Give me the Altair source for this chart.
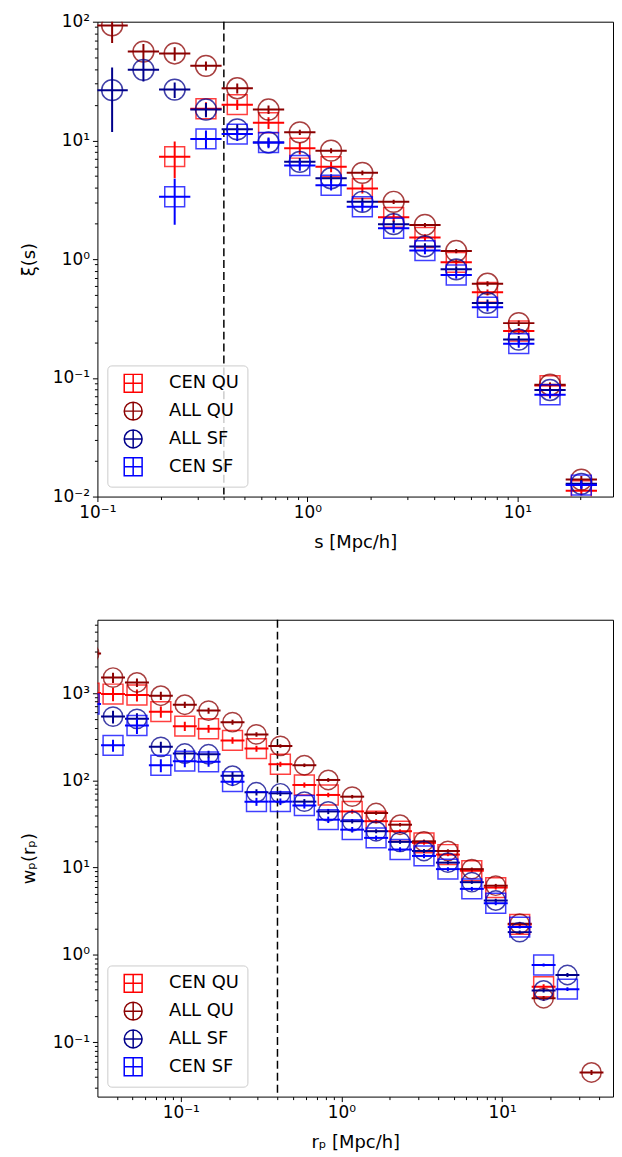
import altair as alt
import pandas as pd

SERIES = ["CEN QU", "ALL QU", "ALL SF", "CEN SF"]
COLORS = ["#ff0000", "#8b0000", "#00008b", "#0000ff"]
MARKERS = ["square", "circle", "circle", "square"]

# ---------------- top panel: xi(s) ----------------
s_bins = [0.1175, 0.1656, 0.2333, 0.3287, 0.4632, 0.6527, 0.9197, 1.296,
          1.826, 2.573, 3.626, 5.109, 7.199, 10.14, 14.29, 20.14]
xi_cen_qu = [None, None, 7.3, 18.5, 20.0, 14.1, 8.6, 6.0, 3.93, 2.25, 1.52, 0.94, 0.525, 0.248, 0.086, 0.0112]
xi_all_qu = [93.0, 56.0, 54.0, 42.5, 27.5, 18.2, 11.7, 8.2, 5.33, 3.04, 1.94, 1.17, 0.62, 0.289, 0.0875, 0.0139]
xi_all_sf = [26.5, 39.3, 26.8, 18.2, 12.4, 9.6, 6.6, 4.8, 3.04, 1.97, 1.28, 0.82, 0.428, 0.21, 0.079, 0.0128]
xi_cen_sf = [None, None, 3.35, 10.3, 11.3, 9.6, 6.15, 4.19, 2.76, 1.82, 1.18, 0.735, 0.393, 0.194, 0.072, 0.0125]
xi_err_cen_qu = [None, None, 2.5, 2.5, 2.0, 1.6, 1.0, 0.6, 0.35, 0.2, 0.1, 0.06, 0.03, 0.015, 0.005, 0.001]
xi_err_all_qu = [27.0, 9.0, 7.0, 3.7, 2.7, 1.5, 0.6, 0.4, 0.25, 0.12, 0.08, 0.05, 0.03, 0.015, 0.004, 0.001]
xi_err_all_sf = [14.7, 8.0, 4.0, 2.5, 1.3, 0.8, 0.5, 0.4, 0.25, 0.15, 0.08, 0.05, 0.03, 0.015, 0.004, 0.001]
xi_err_cen_sf = [None, None, 1.4, 1.8, 1.4, 1.0, 0.6, 0.4, 0.25, 0.15, 0.08, 0.05, 0.03, 0.015, 0.005, 0.001]

# ---------------- bottom panel: w_p(r_p) ----------------
rp_bins = [0.0269, 0.0379, 0.0534, 0.0752, 0.106, 0.149, 0.210, 0.296, 0.417, 0.588, 0.828,
           1.167, 1.644, 2.317, 3.265, 4.60, 6.48, 9.13, 12.87, 18.13, 25.5, 36.0]
wp_cen_qu = [1000, 975, 950, 613, 418, 390, 287, 231, 153, 88.5, 68, 44, 34, 26.1, 19.2, 14.1, 9.2, 5.9, 2.23, 0.43, None, None]
wp_all_qu = [2850, 1507, 1323, 933, 736, 630, 464, 336, 248, 149, 101, 65, 42.2, 31, 20, 15.5, 9.6, 6.2, 2.27, 0.318, None, 0.0448]
wp_all_sf = [None, 538, 507, 242, 203, 199, 113, 73, 71, 57, 44, 34, 26.1, 19.7, 15.5, 11.4, 6.8, 4.19, 1.82, 0.39, 0.587, None]
wp_cen_sf = [750, 252, 425, 149, 166, 163, 96.6, 57, 57, 51.5, 35.4, 27.2, 21.9, 16.1, 13.6, 9.6, 5.7, 3.9, 2.08, 0.764, 0.404, None]
wp_err_cen_qu = [150, 170, 150, 90, 50, 40, 25, 18, 10, 6, 4, 2.5, 1.8, 1.3, 0.9, 0.6, 0.4, 0.3, 0.1, 0.03, None, None]
wp_err_all_qu = [300, 200, 150, 100, 60, 50, 30, 20, 12, 7, 5, 3, 2, 1.4, 0.9, 0.7, 0.4, 0.3, 0.1, 0.02, None, 0.003]
wp_err_all_sf = [None, 90, 80, 35, 25, 20, 12, 6, 5, 4, 3, 2, 1.4, 1.0, 0.8, 0.5, 0.3, 0.2, 0.08, 0.02, 0.03, None]
wp_err_cen_sf = [100, 40, 85, 25, 25, 20, 10, 6, 5, 4, 3, 2, 1.4, 1.0, 0.8, 0.5, 0.3, 0.2, 0.08, 0.03, 0.02, None]

vline_x = [0.4]
HALF_BIN_DEX = 0.0745  # half width of a log bin


def build(bins, values, errors):
    rows = []
    for name, vals, errs in zip(SERIES, values, errors):
        for x, y, e in zip(bins, vals, errs):
            if y is None:
                continue
            e = e or 0.0
            rows.append(dict(series=name, x=x, y=y,
                             xlo=x / 10 ** HALF_BIN_DEX, xhi=x * 10 ** HALF_BIN_DEX,
                             ylo=max(y - e, y * 0.02), yhi=y + e))
    return pd.DataFrame(rows)


df_top = build(s_bins, [xi_cen_qu, xi_all_qu, xi_all_sf, xi_cen_sf],
               [xi_err_cen_qu, xi_err_all_qu, xi_err_all_sf, xi_err_cen_sf])
df_bot = build(rp_bins, [wp_cen_qu, wp_all_qu, wp_all_sf, wp_cen_sf],
               [wp_err_cen_qu, wp_err_all_qu, wp_err_all_sf, wp_err_cen_sf])

SUP = {"-": "\u207b", "0": "\u2070", "1": "\u00b9", "2": "\u00b2", "3": "\u00b3"}


def minors(lo, hi):
    out = []
    for e in range(-3, 4):
        for k in range(2, 10):
            v = round(k * 10 ** e, 10)
            if lo <= v <= hi:
                out.append(v)
    return out


def make_axis(exps, dom, title, tpad):
    majors = [round(10.0 ** e, 10) for e in exps]
    majors = [1000 if m == 1000.0 else m for m in majors]
    expr = ""
    for e, m in zip(exps, majors):
        lab = "10" + "".join(SUP[c] for c in str(e))
        expr += f"datum.value == {m} ? '{lab}' : "
    expr += "''"
    test = "indexof([" + ",".join(str(m) for m in majors) + "], datum.value) >= 0"
    return alt.Axis(values=sorted(majors + minors(dom[0], dom[1])), labelExpr=expr,
                    tickSize={"condition": {"test": test, "value": 5}, "value": 3},
                    title=title, labelFlush=False, labelOverlap=False, titlePadding=tpad,
                    grid=False, domain=False, labelPadding=3)


PLUS_SQUARE = "M-1,-1H1V1H-1Z M-1,0H1 M0,-1V1"
PLUS_CIRCLE = ("M-1,0C-1,-0.552,-0.552,-1,0,-1C0.552,-1,1,-0.552,1,0"
               "C1,0.552,0.552,1,0,1C-0.552,1,-1,0.552,-1,0Z M-1,0H1 M0,-1V1")
LEG_SHAPES = [PLUS_SQUARE, PLUS_CIRCLE, PLUS_CIRCLE, PLUS_SQUARE]


def panel(df, xdom, ydom, xexps, yexps, xtitle, ytitle, w, h, csize, ssize):
    xs = alt.Scale(type="log", domain=xdom, nice=False)
    ys = alt.Scale(type="log", domain=ydom, nice=False)
    xa = make_axis(xexps, xdom, xtitle, 13)
    ya = make_axis(yexps, ydom, ytitle, 14)
    base = alt.Chart(df)
    layers = [
        alt.Chart(pd.DataFrame({"x": vline_x})).mark_rule(
            color="black", strokeDash=[8, 4], strokeWidth=1.5).encode(
            x=alt.X("x:Q", scale=xs, axis=xa))
    ]
    for name, col, mk in zip(SERIES, COLORS, MARKERS):
        sub = base.transform_filter(alt.datum.series == name)
        layers.append(sub.mark_rule(color=col, strokeWidth=2, clip=True).encode(
            x=alt.X("xlo:Q", scale=xs, axis=xa), x2="xhi:Q",
            y=alt.Y("y:Q", scale=ys, axis=ya)))
        layers.append(sub.mark_rule(color=col, strokeWidth=2, clip=True).encode(
            x=alt.X("x:Q", scale=xs, axis=xa),
            y=alt.Y("ylo:Q", scale=ys, axis=ya), y2="yhi:Q"))
        layers.append(sub.mark_point(shape=mk, filled=False, color=col, opacity=0.75,
                                     strokeWidth=1.5, clip=True,
                                     size=csize if mk == "circle" else ssize).encode(
            x=alt.X("x:Q", scale=xs, axis=xa),
            y=alt.Y("y:Q", scale=ys, axis=ya)))
    leg = alt.Legend(title=None, orient="bottom-left", offset=10, padding=8,
                     symbolOffset=8, labelOffset=26, rowPadding=4,
                     labelFontSize=18, labelFont="DejaVu Sans", labelColor="black",
                     symbolSize=324, symbolStrokeWidth=1.5, symbolOpacity=1,
                     strokeColor="#cccccc", fillColor="rgba(255,255,255,0.8)",
                     cornerRadius=4)
    layers.append(base.mark_point(filled=False, opacity=0, strokeWidth=1.5).encode(
        x=alt.X("x:Q", scale=xs, axis=xa),
        y=alt.Y("y:Q", scale=ys, axis=ya),
        color=alt.Color("series:N", scale=alt.Scale(domain=SERIES, range=COLORS), legend=leg),
        shape=alt.Shape("series:N", scale=alt.Scale(domain=SERIES, range=LEG_SHAPES), legend=leg)))
    return alt.layer(*layers).properties(width=w, height=h)


top = panel(df_top, [0.1, 28.5], [0.01, 100], [-1, 0, 1], [-2, -1, 0, 1, 2],
            "s [Mpc/h]", "\u03be(s)", 519, 478, 441, 400)
bot = panel(df_bot, [0.0303, 49], [0.0237, 6930], [-1, 0, 1], [-1, 0, 1, 2, 3],
            "r\u209a [Mpc/h]", "w\u209a(r\u209a)", 519, 480, 380, 400)

chart = alt.vconcat(top, bot, spacing=63).resolve_scale(
    x="independent", y="independent", color="independent", shape="independent"
).resolve_legend(color="independent", shape="independent").configure(
    padding={"left": 12, "top": 0, "right": 0, "bottom": 0},
    background="white",
).configure_view(stroke="black", strokeWidth=1).configure_axis(
    labelFont="DejaVu Sans", titleFont="DejaVu Sans", labelFontSize=17, titleFontSize=18,
    titleFontWeight="normal", labelColor="black", titleColor="black", tickColor="black",
    tickWidth=1,
)

chart.save("out.html", embed_options={"renderer": "svg", "actions": False})
